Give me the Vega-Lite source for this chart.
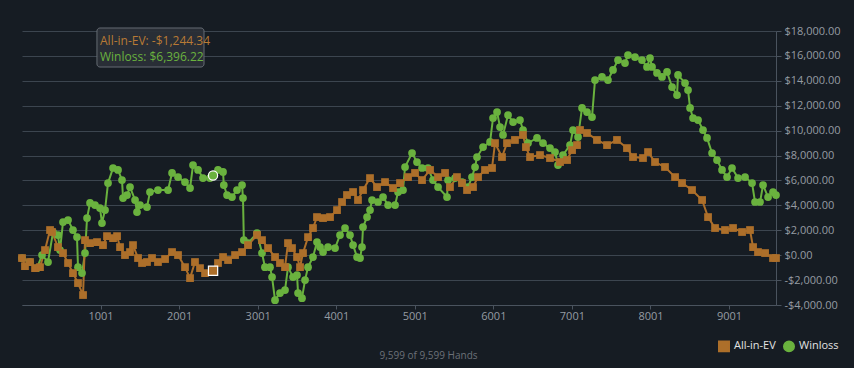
{
  "$schema": "https://vega.github.io/schema/vega-lite/v6.json",
  "width": 754,
  "height": 274,
  "autosize": {"type": "none"},
  "padding": {"left": 22, "top": 31, "right": 78, "bottom": 63},
  "background": "#161c23",
  "config": {
    "view": {"stroke": null},
    "font": "Open Sans",
    "axis": {"labelFont": "Open Sans", "labelColor": "#959ba2", "labelFontSize": 11, "domainColor": "#4a535e", "tickColor": "#4a535e", "gridColor": "#3c454f", "gridWidth": 1},
    "legend": {"title": null, "orient": "none", "legendX": 696, "legendY": 309, "direction": "horizontal", "symbolSize": 110, "labelColor": "#e2e2e2", "labelFontSize": 11, "labelFont": "Open Sans", "columnPadding": 4, "labelOffset": 4, "symbolOpacity": 1}
  },
  "datasets": {
    "series": [
      {"hand":1,"series":"Winloss","value":-230},{"hand":103,"series":"Winloss","value":-550},{"hand":192,"series":"Winloss","value":-1040},{"hand":256,"series":"Winloss","value":10},{"hand":332,"series":"Winloss","value":-550},{"hand":396,"series":"Winloss","value":1860},{"hand":459,"series":"Winloss","value":1620},{"hand":485,"series":"Winloss","value":410},{"hand":523,"series":"Winloss","value":2660},{"hand":587,"series":"Winloss","value":2820},{"hand":650,"series":"Winloss","value":2020},{"hand":701,"series":"Winloss","value":1450},{"hand":714,"series":"Winloss","value":-960},{"hand":765,"series":"Winloss","value":-1440},{"hand":803,"series":"Winloss","value":170},{"hand":829,"series":"Winloss","value":2980},{"hand":867,"series":"Winloss","value":4190},{"hand":930,"series":"Winloss","value":4020},{"hand":994,"series":"Winloss","value":3780},{"hand":1019,"series":"Winloss","value":2580},{"hand":1058,"series":"Winloss","value":3620},{"hand":1096,"series":"Winloss","value":5790},{"hand":1160,"series":"Winloss","value":7000},{"hand":1223,"series":"Winloss","value":6840},{"hand":1274,"series":"Winloss","value":6030},{"hand":1287,"series":"Winloss","value":4590},{"hand":1338,"series":"Winloss","value":4830},{"hand":1376,"series":"Winloss","value":5470},{"hand":1440,"series":"Winloss","value":4430},{"hand":1465,"series":"Winloss","value":3460},{"hand":1503,"series":"Winloss","value":4020},{"hand":1592,"series":"Winloss","value":3860},{"hand":1630,"series":"Winloss","value":5070},{"hand":1732,"series":"Winloss","value":5230},{"hand":1860,"series":"Winloss","value":5230},{"hand":1911,"series":"Winloss","value":6600},{"hand":1987,"series":"Winloss","value":6270},{"hand":2076,"series":"Winloss","value":5870},{"hand":2140,"series":"Winloss","value":5390},{"hand":2178,"series":"Winloss","value":7240},{"hand":2242,"series":"Winloss","value":6840},{"hand":2305,"series":"Winloss","value":6190},{"hand":2394,"series":"Winloss","value":6190},{"hand":2433,"series":"Winloss","value":6396.22},{"hand":2496,"series":"Winloss","value":6840},{"hand":2560,"series":"Winloss","value":6680},{"hand":2570,"series":"Winloss","value":5630},{"hand":2611,"series":"Winloss","value":4830},{"hand":2674,"series":"Winloss","value":4670},{"hand":2738,"series":"Winloss","value":5230},{"hand":2802,"series":"Winloss","value":5630},{"hand":2814,"series":"Winloss","value":4590},{"hand":2825,"series":"Winloss","value":1210},{"hand":2878,"series":"Winloss","value":970},{"hand":2993,"series":"Winloss","value":1780},{"hand":3056,"series":"Winloss","value":170},{"hand":3094,"series":"Winloss","value":-960},{"hand":3158,"series":"Winloss","value":-960},{"hand":3184,"series":"Winloss","value":-1760},{"hand":3222,"series":"Winloss","value":-3610},{"hand":3285,"series":"Winloss","value":-3040},{"hand":3349,"series":"Winloss","value":-2800},{"hand":3387,"series":"Winloss","value":-960},{"hand":3451,"series":"Winloss","value":-1760},{"hand":3502,"series":"Winloss","value":-1600},{"hand":3515,"series":"Winloss","value":-3040},{"hand":3565,"series":"Winloss","value":-3450},{"hand":3604,"series":"Winloss","value":-2000},{"hand":3642,"series":"Winloss","value":-960},{"hand":3705,"series":"Winloss","value":-150},{"hand":3756,"series":"Winloss","value":1050},{"hand":3795,"series":"Winloss","value":650},{"hand":3833,"series":"Winloss","value":250},{"hand":3896,"series":"Winloss","value":650},{"hand":3986,"series":"Winloss","value":570},{"hand":4049,"series":"Winloss","value":1620},{"hand":4113,"series":"Winloss","value":2180},{"hand":4176,"series":"Winloss","value":1620},{"hand":4215,"series":"Winloss","value":810},{"hand":4266,"series":"Winloss","value":-150},{"hand":4304,"series":"Winloss","value":-230},{"hand":4329,"series":"Winloss","value":650},{"hand":4342,"series":"Winloss","value":2260},{"hand":4393,"series":"Winloss","value":3060},{"hand":4431,"series":"Winloss","value":3620},{"hand":4457,"series":"Winloss","value":4430},{"hand":4533,"series":"Winloss","value":4270},{"hand":4597,"series":"Winloss","value":4670},{"hand":4661,"series":"Winloss","value":4020},{"hand":4750,"series":"Winloss","value":4020},{"hand":4788,"series":"Winloss","value":5070},{"hand":4851,"series":"Winloss","value":5230},{"hand":4877,"series":"Winloss","value":7080},{"hand":4966,"series":"Winloss","value":8200},{"hand":5029,"series":"Winloss","value":7480},{"hand":5093,"series":"Winloss","value":7000},{"hand":5169,"series":"Winloss","value":7000},{"hand":5233,"series":"Winloss","value":6030},{"hand":5297,"series":"Winloss","value":5470},{"hand":5411,"series":"Winloss","value":4670},{"hand":5424,"series":"Winloss","value":6030},{"hand":5513,"series":"Winloss","value":6190},{"hand":5602,"series":"Winloss","value":5870},{"hand":5678,"series":"Winloss","value":5470},{"hand":5729,"series":"Winloss","value":6270},{"hand":5768,"series":"Winloss","value":7080},{"hand":5793,"series":"Winloss","value":7880},{"hand":5870,"series":"Winloss","value":8680},{"hand":5959,"series":"Winloss","value":9090},{"hand":5997,"series":"Winloss","value":11010},{"hand":6048,"series":"Winloss","value":11490},{"hand":6086,"series":"Winloss","value":10290},{"hand":6124,"series":"Winloss","value":9650},{"hand":6188,"series":"Winloss","value":11250},{"hand":6252,"series":"Winloss","value":10690},{"hand":6340,"series":"Winloss","value":10850},{"hand":6379,"series":"Winloss","value":10050},{"hand":6442,"series":"Winloss","value":9000},{"hand":6557,"series":"Winloss","value":9410},{"hand":6633,"series":"Winloss","value":9000},{"hand":6722,"series":"Winloss","value":8600},{"hand":6786,"series":"Winloss","value":8280},{"hand":6824,"series":"Winloss","value":7240},{"hand":6888,"series":"Winloss","value":8040},{"hand":6977,"series":"Winloss","value":8840},{"hand":7015,"series":"Winloss","value":10050},{"hand":7079,"series":"Winloss","value":9490},{"hand":7130,"series":"Winloss","value":11820},{"hand":7193,"series":"Winloss","value":11490},{"hand":7257,"series":"Winloss","value":11090},{"hand":7295,"series":"Winloss","value":14060},{"hand":7384,"series":"Winloss","value":14310},{"hand":7460,"series":"Winloss","value":14060},{"hand":7524,"series":"Winloss","value":14870},{"hand":7588,"series":"Winloss","value":15670},{"hand":7677,"series":"Winloss","value":15430},{"hand":7715,"series":"Winloss","value":16070},{"hand":7804,"series":"Winloss","value":15910},{"hand":7893,"series":"Winloss","value":15670},{"hand":7957,"series":"Winloss","value":15110},{"hand":7995,"series":"Winloss","value":15830},{"hand":8021,"series":"Winloss","value":15110},{"hand":8084,"series":"Winloss","value":14630},{"hand":8148,"series":"Winloss","value":14310},{"hand":8212,"series":"Winloss","value":14710},{"hand":8276,"series":"Winloss","value":13500},{"hand":8339,"series":"Winloss","value":12860},{"hand":8352,"series":"Winloss","value":14470},{"hand":8441,"series":"Winloss","value":13820},{"hand":8479,"series":"Winloss","value":13260},{"hand":8505,"series":"Winloss","value":11820},{"hand":8543,"series":"Winloss","value":11010},{"hand":8607,"series":"Winloss","value":10850},{"hand":8670,"series":"Winloss","value":10050},{"hand":8721,"series":"Winloss","value":9410},{"hand":8785,"series":"Winloss","value":8200},{"hand":8848,"series":"Winloss","value":7640},{"hand":8912,"series":"Winloss","value":6840},{"hand":8976,"series":"Winloss","value":6270},{"hand":9039,"series":"Winloss","value":7000},{"hand":9116,"series":"Winloss","value":6190},{"hand":9205,"series":"Winloss","value":6270},{"hand":9294,"series":"Winloss","value":5790},{"hand":9332,"series":"Winloss","value":4270},{"hand":9396,"series":"Winloss","value":4270},{"hand":9434,"series":"Winloss","value":5630},{"hand":9498,"series":"Winloss","value":4670},{"hand":9561,"series":"Winloss","value":5070},{"hand":9599,"series":"Winloss","value":4830},
      {"hand":1,"series":"All-in-EV","value":-230},{"hand":39,"series":"All-in-EV","value":-880},{"hand":103,"series":"All-in-EV","value":-550},{"hand":167,"series":"All-in-EV","value":-1040},{"hand":230,"series":"All-in-EV","value":-960},{"hand":294,"series":"All-in-EV","value":410},{"hand":358,"series":"All-in-EV","value":2020},{"hand":383,"series":"All-in-EV","value":1860},{"hand":459,"series":"All-in-EV","value":650},{"hand":523,"series":"All-in-EV","value":170},{"hand":587,"series":"All-in-EV","value":-630},{"hand":650,"series":"All-in-EV","value":-1440},{"hand":714,"series":"All-in-EV","value":-2240},{"hand":778,"series":"All-in-EV","value":-3200},{"hand":803,"series":"All-in-EV","value":1210},{"hand":867,"series":"All-in-EV","value":970},{"hand":956,"series":"All-in-EV","value":1050},{"hand":1032,"series":"All-in-EV","value":810},{"hand":1083,"series":"All-in-EV","value":1530},{"hand":1160,"series":"All-in-EV","value":1370},{"hand":1211,"series":"All-in-EV","value":1530},{"hand":1249,"series":"All-in-EV","value":650},{"hand":1312,"series":"All-in-EV","value":10},{"hand":1376,"series":"All-in-EV","value":250},{"hand":1414,"series":"All-in-EV","value":810},{"hand":1478,"series":"All-in-EV","value":-230},{"hand":1529,"series":"All-in-EV","value":-630},{"hand":1592,"series":"All-in-EV","value":-550},{"hand":1656,"series":"All-in-EV","value":-230},{"hand":1732,"series":"All-in-EV","value":-550},{"hand":1822,"series":"All-in-EV","value":-310},{"hand":1911,"series":"All-in-EV","value":250},{"hand":1987,"series":"All-in-EV","value":10},{"hand":2076,"series":"All-in-EV","value":-960},{"hand":2140,"series":"All-in-EV","value":-1840},{"hand":2203,"series":"All-in-EV","value":-550},{"hand":2267,"series":"All-in-EV","value":-1040},{"hand":2331,"series":"All-in-EV","value":-1440},{"hand":2433,"series":"All-in-EV","value":-1244.34},{"hand":2496,"series":"All-in-EV","value":-630},{"hand":2560,"series":"All-in-EV","value":-150},{"hand":2624,"series":"All-in-EV","value":-390},{"hand":2713,"series":"All-in-EV","value":10},{"hand":2802,"series":"All-in-EV","value":250},{"hand":2878,"series":"All-in-EV","value":810},{"hand":2993,"series":"All-in-EV","value":1620},{"hand":3056,"series":"All-in-EV","value":1210},{"hand":3133,"series":"All-in-EV","value":570},{"hand":3222,"series":"All-in-EV","value":-150},{"hand":3285,"series":"All-in-EV","value":-630},{"hand":3349,"series":"All-in-EV","value":-960},{"hand":3387,"series":"All-in-EV","value":970},{"hand":3438,"series":"All-in-EV","value":570},{"hand":3502,"series":"All-in-EV","value":-150},{"hand":3540,"series":"All-in-EV","value":-960},{"hand":3578,"series":"All-in-EV","value":170},{"hand":3642,"series":"All-in-EV","value":1450},{"hand":3705,"series":"All-in-EV","value":2180},{"hand":3756,"series":"All-in-EV","value":3060},{"hand":3833,"series":"All-in-EV","value":2980},{"hand":3922,"series":"All-in-EV","value":3060},{"hand":4011,"series":"All-in-EV","value":3620},{"hand":4075,"series":"All-in-EV","value":4270},{"hand":4138,"series":"All-in-EV","value":4830},{"hand":4215,"series":"All-in-EV","value":5070},{"hand":4278,"series":"All-in-EV","value":4430},{"hand":4342,"series":"All-in-EV","value":5230},{"hand":4431,"series":"All-in-EV","value":6190},{"hand":4520,"series":"All-in-EV","value":5470},{"hand":4622,"series":"All-in-EV","value":5870},{"hand":4724,"series":"All-in-EV","value":5390},{"hand":4813,"series":"All-in-EV","value":5790},{"hand":4915,"series":"All-in-EV","value":6270},{"hand":5004,"series":"All-in-EV","value":6600},{"hand":5093,"series":"All-in-EV","value":6030},{"hand":5195,"series":"All-in-EV","value":6840},{"hand":5297,"series":"All-in-EV","value":6270},{"hand":5386,"series":"All-in-EV","value":6600},{"hand":5449,"series":"All-in-EV","value":5470},{"hand":5538,"series":"All-in-EV","value":6270},{"hand":5602,"series":"All-in-EV","value":5790},{"hand":5666,"series":"All-in-EV","value":5230},{"hand":5742,"series":"All-in-EV","value":5470},{"hand":5806,"series":"All-in-EV","value":6270},{"hand":5895,"series":"All-in-EV","value":6840},{"hand":5984,"series":"All-in-EV","value":7000},{"hand":6022,"series":"All-in-EV","value":9000},{"hand":6111,"series":"All-in-EV","value":7880},{"hand":6175,"series":"All-in-EV","value":9000},{"hand":6276,"series":"All-in-EV","value":9250},{"hand":6378,"series":"All-in-EV","value":9650},{"hand":6416,"series":"All-in-EV","value":8680},{"hand":6468,"series":"All-in-EV","value":7880},{"hand":6595,"series":"All-in-EV","value":8040},{"hand":6722,"series":"All-in-EV","value":7800},{"hand":6850,"series":"All-in-EV","value":7480},{"hand":6939,"series":"All-in-EV","value":7640},{"hand":7003,"series":"All-in-EV","value":8440},{"hand":7066,"series":"All-in-EV","value":8840},{"hand":7104,"series":"All-in-EV","value":10050},{"hand":7193,"series":"All-in-EV","value":9810},{"hand":7320,"series":"All-in-EV","value":9250},{"hand":7448,"series":"All-in-EV","value":8840},{"hand":7575,"series":"All-in-EV","value":9250},{"hand":7702,"series":"All-in-EV","value":8600},{"hand":7779,"series":"All-in-EV","value":7880},{"hand":7906,"series":"All-in-EV","value":7800},{"hand":7970,"series":"All-in-EV","value":8280},{"hand":8059,"series":"All-in-EV","value":7480},{"hand":8186,"series":"All-in-EV","value":7080},{"hand":8314,"series":"All-in-EV","value":6270},{"hand":8403,"series":"All-in-EV","value":5790},{"hand":8530,"series":"All-in-EV","value":5230},{"hand":8658,"series":"All-in-EV","value":4430},{"hand":8734,"series":"All-in-EV","value":3060},{"hand":8823,"series":"All-in-EV","value":2180},{"hand":8950,"series":"All-in-EV","value":2020},{"hand":9052,"series":"All-in-EV","value":2180},{"hand":9167,"series":"All-in-EV","value":1860},{"hand":9268,"series":"All-in-EV","value":2020},{"hand":9307,"series":"All-in-EV","value":650},{"hand":9370,"series":"All-in-EV","value":250},{"hand":9460,"series":"All-in-EV","value":170},{"hand":9561,"series":"All-in-EV","value":-230},{"hand":9599,"series":"All-in-EV","value":-230}
    ],
    "hover": [
      {"hand": 2433, "series": "Winloss", "value": 6396.22},
      {"hand": 2433, "series": "All-in-EV", "value": -1244.34}
    ],
    "tipbox": [
      {"x1": 955, "x2": 2318, "y1": 18241, "y2": 15108}
    ],
    "tiplines": [
      {"hand": 994, "value": 17200, "label": "All-in-EV: -$1,244.34", "series": "All-in-EV"},
      {"hand": 994, "value": 15900, "label": "Winloss: $6,396.22", "series": "Winloss"}
    ]
  },
  "encoding": {
    "x": {"field": "hand", "type": "quantitative", "scale": {"domain": [1, 9599], "nice": false, "zero": false},
          "axis": {"title": "9,599 of 9,599 Hands", "titleColor": "#6b7078", "titleFontSize": 10, "titleFontWeight": "normal", "titleFont": "Open Sans", "titleX": 406, "titleY": 50, "titleAlign": "center", "titleBaseline": "middle", "titleAnchor": null,
                   "values": [1001, 2001, 3001, 4001, 5001, 6001, 7001, 8001, 9001], "format": "d", "grid": false, "tickSize": 4, "labelPadding": 1, "labelOverlap": false}},
    "y": {"field": "value", "type": "quantitative", "scale": {"domain": [-4000, 18000], "nice": false, "zero": false},
          "axis": {"title": null, "orient": "right", "values": [-4000, -2000, 0, 2000, 4000, 6000, 8000, 10000, 12000, 14000, 16000, 18000], "tickCount": 12, "labelExpr": "replace(format(datum.value, '$,.2f'), '\u2212', '-')", "tickSize": 5, "labelPadding": 3, "grid": true, "labelOverlap": false, "labelBound": false}}
  },
  "layer": [
    {
      "data": {"name": "series"},
      "mark": {"type": "line", "strokeWidth": 2, "interpolate": "linear"},
      "encoding": {
        "color": {"field": "series", "type": "nominal", "scale": {"domain": ["All-in-EV", "Winloss"], "range": ["#ad6f2a", "#6ab23e"]}},
        "detail": {"field": "series"}
      }
    },
    {
      "data": {"name": "series"},
      "mark": {"type": "point", "filled": true, "size": 60, "opacity": 1},
      "encoding": {
        "color": {"field": "series", "type": "nominal", "scale": {"domain": ["All-in-EV", "Winloss"], "range": ["#ad6f2a", "#6ab23e"]}},
        "shape": {"field": "series", "type": "nominal", "scale": {"domain": ["All-in-EV", "Winloss"], "range": ["square", "circle"]}}
      }
    },
    {
      "data": {"name": "hover"},
      "mark": {"type": "point", "filled": true, "size": 85, "stroke": "#ffffff", "strokeWidth": 1.2, "opacity": 1},
      "encoding": {
        "fill": {"condition": {"test": "datum.series === 'Winloss'", "value": "#6ab23e"}, "value": "#ad6f2a"},
        "shape": {"condition": {"test": "datum.series === 'Winloss'", "value": "circle"}, "value": "square"}
      }
    },
    {
      "data": {"name": "tipbox"},
      "mark": {"type": "rect", "fill": "#2b3038", "stroke": "#6a7078", "strokeWidth": 1, "cornerRadius": 3, "opacity": 0.95},
      "encoding": {
        "x": {"field": "x1", "type": "quantitative"},
        "x2": {"field": "x2"},
        "y": {"field": "y1", "type": "quantitative"},
        "y2": {"field": "y2"}
      }
    },
    {
      "data": {"name": "tiplines"},
      "mark": {"type": "text", "align": "left", "baseline": "middle", "fontSize": 12, "font": "Open Sans"},
      "encoding": {
        "text": {"field": "label"},
        "color": {"condition": {"test": "datum.series === 'Winloss'", "value": "#6ab23e"}, "value": "#b87a35"}
      }
    }
  ]
}
